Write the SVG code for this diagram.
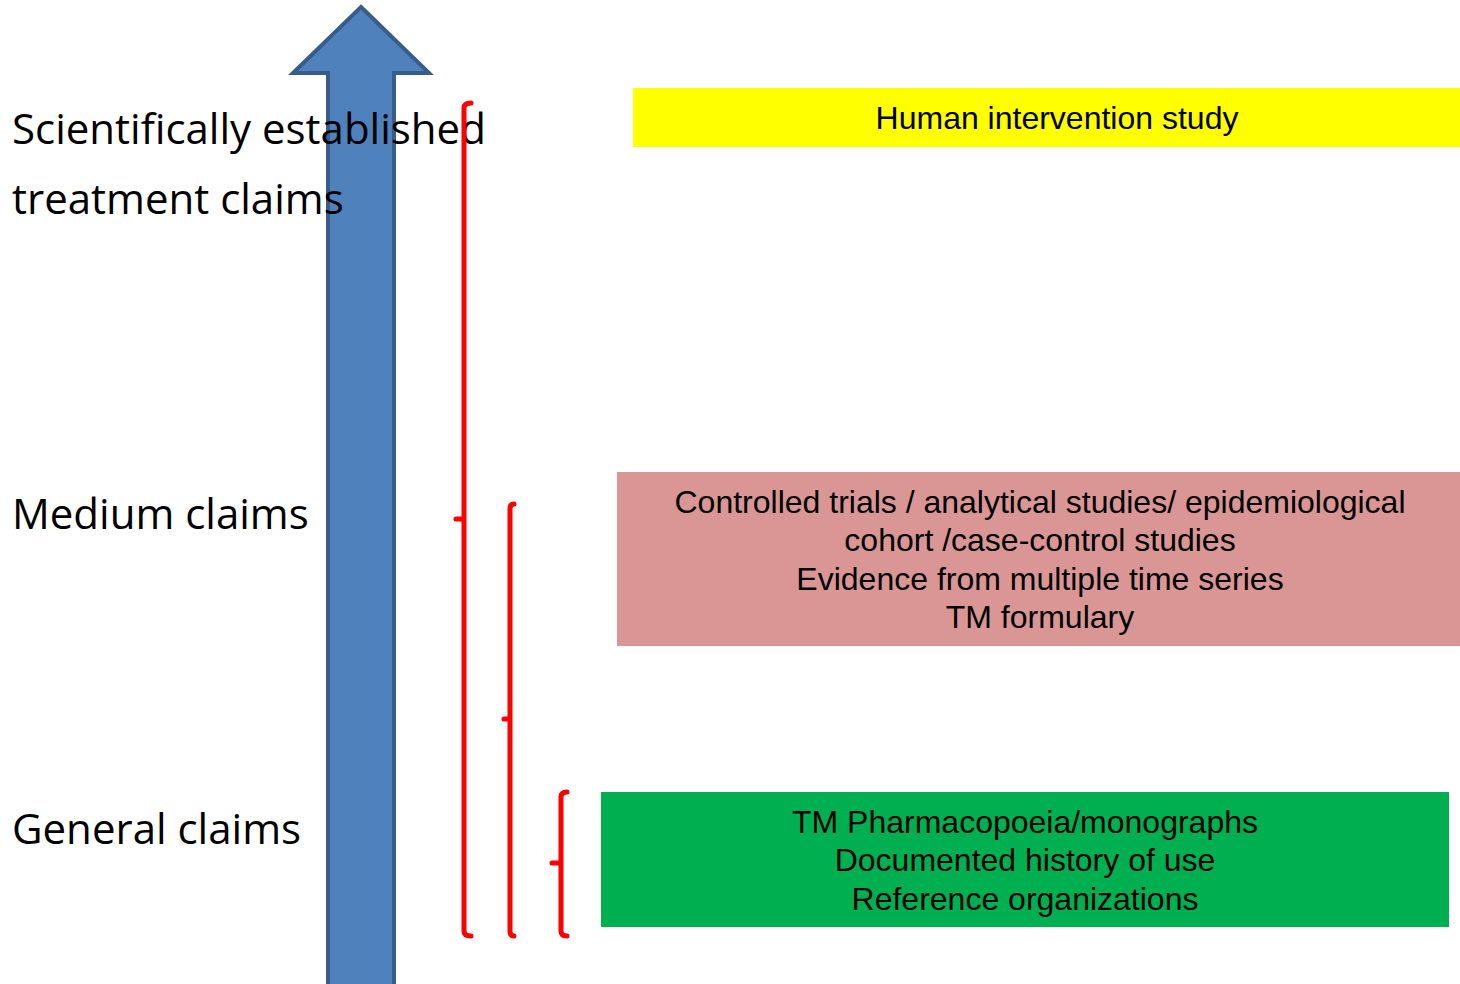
<svg xmlns="http://www.w3.org/2000/svg" width="1460" height="984" viewBox="0 0 1460 984">
<style>
.lbl{font-family:"Open Sans","Liberation Sans",sans-serif;font-size:42px;fill:#000}
.box{font-family:"Liberation Sans",Arial,sans-serif;font-size:32px;fill:#000;text-anchor:middle}
.br{fill:none;stroke:#FF0000;stroke-width:5;stroke-linejoin:round;stroke-linecap:round}
</style>
<rect width="1460" height="984" fill="#fff"/>
<g id="arrow">
<path d="M361,7 L429,73 L394,73 L394,990 L328,990 L328,73 L293,73 Z" fill="#4F81BD" stroke="#385D8A" stroke-width="4"/>
</g>
<g id="labels">
<text class="lbl" x="12" y="144">Scientifically established</text>
<text class="lbl" x="12" y="214">treatment claims</text>
<text class="lbl" x="12" y="529">Medium claims</text>
<text class="lbl" x="12" y="844">General claims</text>
</g>
<g id="connectors">
<path class="br" d="M471,103 Q464,103 464,108 L464,931 Q464,936 471,936 M456,519 L464,519"/>
<path class="br" d="M514,504 Q510,504 510,509 L510,931 Q510,936 514,936 M504,719 L510,719"/>
<path class="br" d="M567,792 Q561,792 561,797 L561,931 Q561,936 567,936 M552,863 L561,863"/>
</g>
<g id="node-human">
<rect x="633" y="88" width="827" height="59" fill="#FFFF00"/>
<text class="box" x="1057" y="129">Human intervention study</text>
</g>
<g id="node-controlled">
<rect x="617" y="472" width="843" height="174" fill="#D99694"/>
<text class="box" x="1040" y="513">Controlled trials / analytical studies/ epidemiological</text>
<text class="box" x="1040" y="551">cohort /case-control studies</text>
<text class="box" x="1040" y="590">Evidence from multiple time series</text>
<text class="box" x="1040" y="628">TM formulary</text>
</g>
<g id="node-tm">
<rect x="601" y="792" width="848" height="135" fill="#00B050"/>
<text class="box" x="1025" y="833">TM Pharmacopoeia/monographs</text>
<text class="box" x="1025" y="871">Documented history of use</text>
<text class="box" x="1025" y="910">Reference organizations</text>
</g>
</svg>
